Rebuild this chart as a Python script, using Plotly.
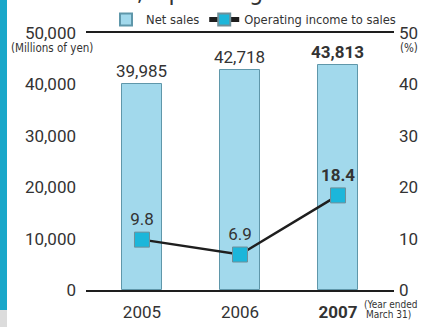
import plotly.graph_objects as go

# Fiscal years (ended March 31)
years = ["2005", "2006", "2007"]
year_labels = ["2005", "2006", "<b>2007</b>"]
net_sales = [39985, 42718, 43813]          # millions of yen
op_margin = [9.8, 6.9, 18.4]               # operating income to sales, %
sales_text = ["39,985", "42,718", "<b>43,813</b>"]
margin_text = ["9.8", "6.9", "<b>18.4</b>"]
left_ticks = [0, 10000, 20000, 30000, 40000, 50000]
left_tick_text = ["0", "10,000", "20,000", "30,000", "40,000", "50,000"]
right_ticks = [0, 10, 20, 30, 40, 50]

NUM_FONT = "Roboto, Open Sans, sans-serif"
NARROW = "DejaVu Sans Condensed, sans-serif"
INK = "#333333"

xs = list(range(len(years)))

fig = go.Figure()
fig.add_trace(go.Bar(
    x=xs, y=net_sales, name="Net sales", width=0.41,
    marker=dict(color="#a2d9ec", line=dict(color="#5f97aa", width=1)),
    text=sales_text, textposition="outside", cliponaxis=False,
    constraintext="none",
    textfont=dict(family=NUM_FONT, size=17, color=INK),
))
fig.add_trace(go.Scatter(
    x=xs, y=op_margin, name="Operating income to sales", yaxis="y2",
    mode="lines+markers+text",
    line=dict(color="#1e1e1e", width=2.5),
    marker=dict(symbol="square", size=15, color="#1cb6da",
                line=dict(color="#6f8f99", width=1)),
    text=margin_text, textposition="top center", cliponaxis=False,
    textfont=dict(family=NUM_FONT, size=17, color=INK),
))

fig.update_layout(
    width=425, height=327,
    margin=dict(l=86, r=31, t=33, b=37, autoexpand=False),
    paper_bgcolor="white", plot_bgcolor="white",
    bargap=0,
    showlegend=True,
    legend=dict(orientation="h", x=0.065, y=1.052, xanchor="left", yanchor="middle",
                font=dict(family=NARROW, size=12.8, color=INK),
                itemsizing="constant", bgcolor="rgba(0,0,0,0)",
                traceorder="normal"),
    xaxis=dict(range=[-0.571, 2.571], tickvals=xs, ticktext=year_labels,
               showline=True, mirror=True, linecolor="#1e1e1e", linewidth=2,
               ticks="", showgrid=False, zeroline=False, ticklabelstandoff=6,
               tickfont=dict(family=NUM_FONT, size=17, color=INK)),
    yaxis=dict(range=[0, 50000], tickvals=left_ticks, ticktext=left_tick_text,
               showgrid=False, zeroline=False, showline=False, ticks="",
               ticklabelstandoff=9,
               tickfont=dict(family=NUM_FONT, size=17, color=INK)),
    yaxis2=dict(range=[0, 50], tickvals=right_ticks, overlaying="y", side="right",
                showgrid=False, zeroline=False, showline=False, ticks="",
                ticklabelstandoff=4,
                tickfont=dict(family=NUM_FONT, size=17, color=INK)),
    font=dict(family=NUM_FONT, color=INK),
)

# Unit captions under the top axis values
fig.add_annotation(xref="paper", yref="paper", x=-0.110, y=0.94, text="(Millions of yen)",
                   showarrow=False, xanchor="center", yanchor="middle",
                   font=dict(family=NARROW, size=11.5, color=INK))
fig.add_annotation(xref="paper", yref="paper", x=1.013, y=0.94, text="(%)",
                   showarrow=False, xanchor="left", yanchor="middle",
                   font=dict(family=NARROW, size=11.5, color=INK))
fig.add_annotation(xref="paper", yref="paper", x=0.896, y=-0.0545, text="(Year ended",
                   showarrow=False, xanchor="left", yanchor="middle",
                   font=dict(family=NARROW, size=10, color=INK))
fig.add_annotation(xref="paper", yref="paper", x=1.062, y=-0.0934, text="March 31)",
                   showarrow=False, xanchor="right", yanchor="middle",
                   font=dict(family=NARROW, size=10, color=INK))

# Section heading, mostly cropped above the frame
fig.add_annotation(xref="paper", yref="paper", x=-0.187, y=1.097,
                   text="Net Sales, Operating Income to Sales",
                   showarrow=False, xanchor="left", yanchor="bottom",
                   font=dict(family=NARROW, size=25, color=INK))

# Page side strip
fig.add_shape(type="rect", xref="paper", yref="paper", x0=-0.28, x1=-0.2565,
              y0=-0.078, y1=1.2, fillcolor="#1aa7c9", line_width=0, layer="above")
fig.add_shape(type="rect", xref="paper", yref="paper", x0=-0.28, x1=-0.2565,
              y0=-0.15, y1=-0.078, fillcolor="#dcdcdc", line_width=0, layer="above")

fig.write_html("out.html")
